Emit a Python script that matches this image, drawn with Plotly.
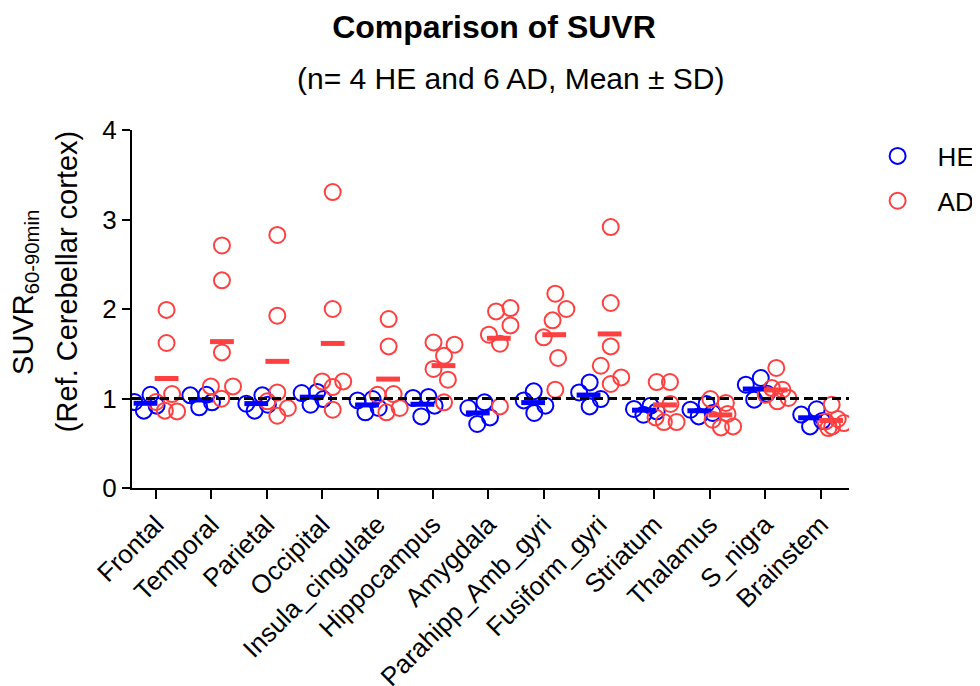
import numpy as np
import plotly.graph_objects as go

categories = ["Frontal", "Temporal", "Parietal", "Occipital", "Insula_cingulate",
              "Hippocampus", "Amygdala", "Parahipp_Amb_gyri", "Fusiform_gyri",
              "Striatum", "Thalamus", "S_nigra", "Brainstem"]

he_values = [
    [0.961, 0.864, 1.042, 0.920],
    [1.035, 0.901, 1.042, 0.957],
    [0.942, 0.864, 1.035, 0.931],
    [1.061, 0.931, 1.073, 0.994],
    [0.979, 0.845, 0.994, 0.894],
    [1.006, 0.800, 1.017, 0.920],
    [0.894, 0.715, 0.957, 0.789],
    [0.979, 1.080, 0.838, 0.920],
    [1.068, 1.180, 0.994, 0.912],
    [0.883, 0.819, 0.920, 0.856],
    [0.875, 0.800, 0.939, 0.838],
    [1.154, 0.987, 1.229, 1.054],
    [0.820, 0.688, 0.880, 0.750],
]

ad_values = [
    [0.961, 0.864, 1.050, 0.856, 1.620, 1.990],
    [1.135, 0.998, 1.135, 1.515, 2.320, 2.710],
    [0.968, 1.068, 0.808, 0.894, 1.925, 2.827],
    [1.191, 1.128, 1.191, 0.875, 2.000, 3.307],
    [1.042, 0.845, 1.050, 0.894, 1.582, 1.888],
    [1.627, 1.478, 1.601, 1.330, 1.210, 0.957],
    [1.713, 1.973, 1.612, 2.011, 1.817, 0.912],
    [1.683, 1.873, 2.171, 2.000, 1.453, 1.098],
    [2.916, 2.067, 1.582, 1.366, 1.162, 1.236],
    [1.184, 1.184, 0.939, 0.789, 0.737, 0.737],
    [0.994, 0.950, 0.827, 0.763, 0.677, 0.688],
    [1.341, 1.117, 1.042, 1.098, 0.968, 1.006],
    [0.744, 0.931, 0.688, 0.771, 0.726, 0.670],
]

# horizontal scatter of points within each category (category-width units)
he_jitter = [
    [-0.39, -0.22, -0.10, 0.01],
    [-0.38, -0.22, -0.09, 0.01],
    [-0.37, -0.22, -0.08, 0.02],
    [-0.37, -0.21, -0.09, 0.02],
    [-0.36, -0.22, -0.09, 0.02],
    [-0.36, -0.21, -0.08, 0.03],
    [-0.36, -0.20, -0.07, 0.03],
    [-0.36, -0.18, -0.17, 0.03],
    [-0.36, -0.17, 0.03, -0.17],
    [-0.37, -0.20, -0.07, 0.04],
    [-0.35, -0.20, -0.06, 0.05],
    [-0.35, -0.20, -0.08, 0.03],
    [-0.35, -0.19, -0.07, 0.03],
]
ad_jitter = [
    [0.00, 0.16, 0.29, 0.38, 0.19, 0.19],
    [-0.01, 0.18, 0.39, 0.19, 0.19, 0.19],
    [0.01, 0.19, 0.19, 0.38, 0.19, 0.19],
    [0.00, 0.19, 0.38, 0.19, 0.19, 0.19],
    [0.00, 0.16, 0.29, 0.40, 0.20, 0.20],
    [0.01, 0.20, 0.39, 0.01, 0.27, 0.20],
    [0.01, 0.14, 0.21, 0.40, 0.40, 0.21],
    [0.00, 0.16, 0.21, 0.41, 0.26, 0.21],
    [0.21, 0.21, 0.21, 0.03, 0.21, 0.40],
    [0.04, 0.28, 0.29, 0.02, 0.17, 0.40],
    [0.01, 0.29, 0.32, 0.05, 0.20, 0.42],
    [0.20, 0.12, 0.01, 0.31, 0.22, 0.42],
    [0.09, 0.20, 0.21, 0.31, 0.42, 0.14],
]

y_ticks = [0, 1, 2, 3, 4]

BLUE = "#0000FF"
RED = "#FF4040"
FONT = "Arial, Liberation Sans, sans-serif"

def pts(values, jitter):
    xs, ys = [], []
    for i, (vals, jit) in enumerate(zip(values, jitter)):
        for v, j in zip(vals, jit):
            xs.append(i + j)
            ys.append(v)
    return xs, ys

fig = go.Figure()
hx, hy = pts(he_values, he_jitter)
ax, ay = pts(ad_values, ad_jitter)

fig.add_trace(go.Scatter(x=hx, y=hy, mode="markers", name="HE", legendgroup="HE",
                         marker=dict(symbol="circle-open", size=16, color=BLUE,
                                     line=dict(width=2, color=BLUE))))
fig.add_trace(go.Scatter(x=ax, y=ay, mode="markers", name="AD", legendgroup="AD",
                         marker=dict(symbol="circle-open", size=16, color=RED,
                                     line=dict(width=2, color=RED))))

idx = np.arange(len(categories))
he_mean = [float(np.mean(v)) for v in he_values]
ad_mean = [float(np.mean(v)) for v in ad_values]
fig.add_trace(go.Scatter(x=idx - 0.19, y=he_mean, mode="markers", showlegend=False,
                         hoverinfo="skip",
                         marker=dict(symbol="line-ew", size=17, color=BLUE,
                                     line=dict(width=5, color=BLUE))))
fig.add_trace(go.Scatter(x=idx + 0.19, y=ad_mean, mode="markers", showlegend=False,
                         hoverinfo="skip",
                         marker=dict(symbol="line-ew", size=17, color=RED,
                                     line=dict(width=5, color=RED))))

fig.add_shape(type="line", xref="paper", x0=0, x1=1, yref="y", y0=1, y1=1,
              line=dict(color="black", width=3, dash="9px,5px"))

# page body has an 8px default margin, so the figure is sized to fit the window
fig.update_layout(
    width=972, height=678,
    margin=dict(l=124, r=131, t=122, b=198, autoexpand=False),
    plot_bgcolor="white", paper_bgcolor="white",
    font=dict(family=FONT, color="black"),
    title=dict(text="<b>Comparison of SUVR</b>", x=0.5, xanchor="center",
               y=0.972, yanchor="middle", font=dict(size=32, family=FONT)),
    showlegend=True,
    legend=dict(x=1.012, y=0.993, xanchor="left", yanchor="top",
                font=dict(size=26, family=FONT), tracegroupgap=8,
                itemwidth=70, bgcolor="rgba(0,0,0,0)"),
    annotations=[
        dict(text="(n= 4 HE and 6 AD, Mean \u00b1 SD)", xref="paper", yref="paper",
             x=0.529, y=1.145, xanchor="center", yanchor="middle",
             showarrow=False, font=dict(size=30, family=FONT)),
        dict(text="SUVR<sub>60-90min</sub>", xref="paper", yref="paper",
             x=0, xshift=-107, y=0.545, xanchor="center", yanchor="middle",
             textangle=-90, showarrow=False, font=dict(size=29, family=FONT)),
        dict(text="(Ref. Cerebellar cortex)", xref="paper", yref="paper",
             x=0, xshift=-65, y=0.575, xanchor="center", yanchor="middle",
             textangle=-90, showarrow=False, font=dict(size=29, family=FONT)),
    ],
)

fig.update_xaxes(range=[-0.434, 12.513], tickmode="array", tickvals=list(idx),
                 ticktext=categories, tickangle=-45, ticks="outside", ticklen=9,
                 tickwidth=2, tickcolor="black", showline=True, linewidth=2,
                 linecolor="black", showgrid=False, zeroline=False, automargin=False,
                 tickfont=dict(size=26, family=FONT))
fig.update_yaxes(range=[0, 4], tickmode="array", tickvals=y_ticks,
                 ticks="outside", ticklen=8, tickwidth=2, tickcolor="black",
                 showline=True, linewidth=2, linecolor="black", showgrid=False,
                 zeroline=False, automargin=False, tickfont=dict(size=26, family=FONT))

fig.write_html("out.html")
